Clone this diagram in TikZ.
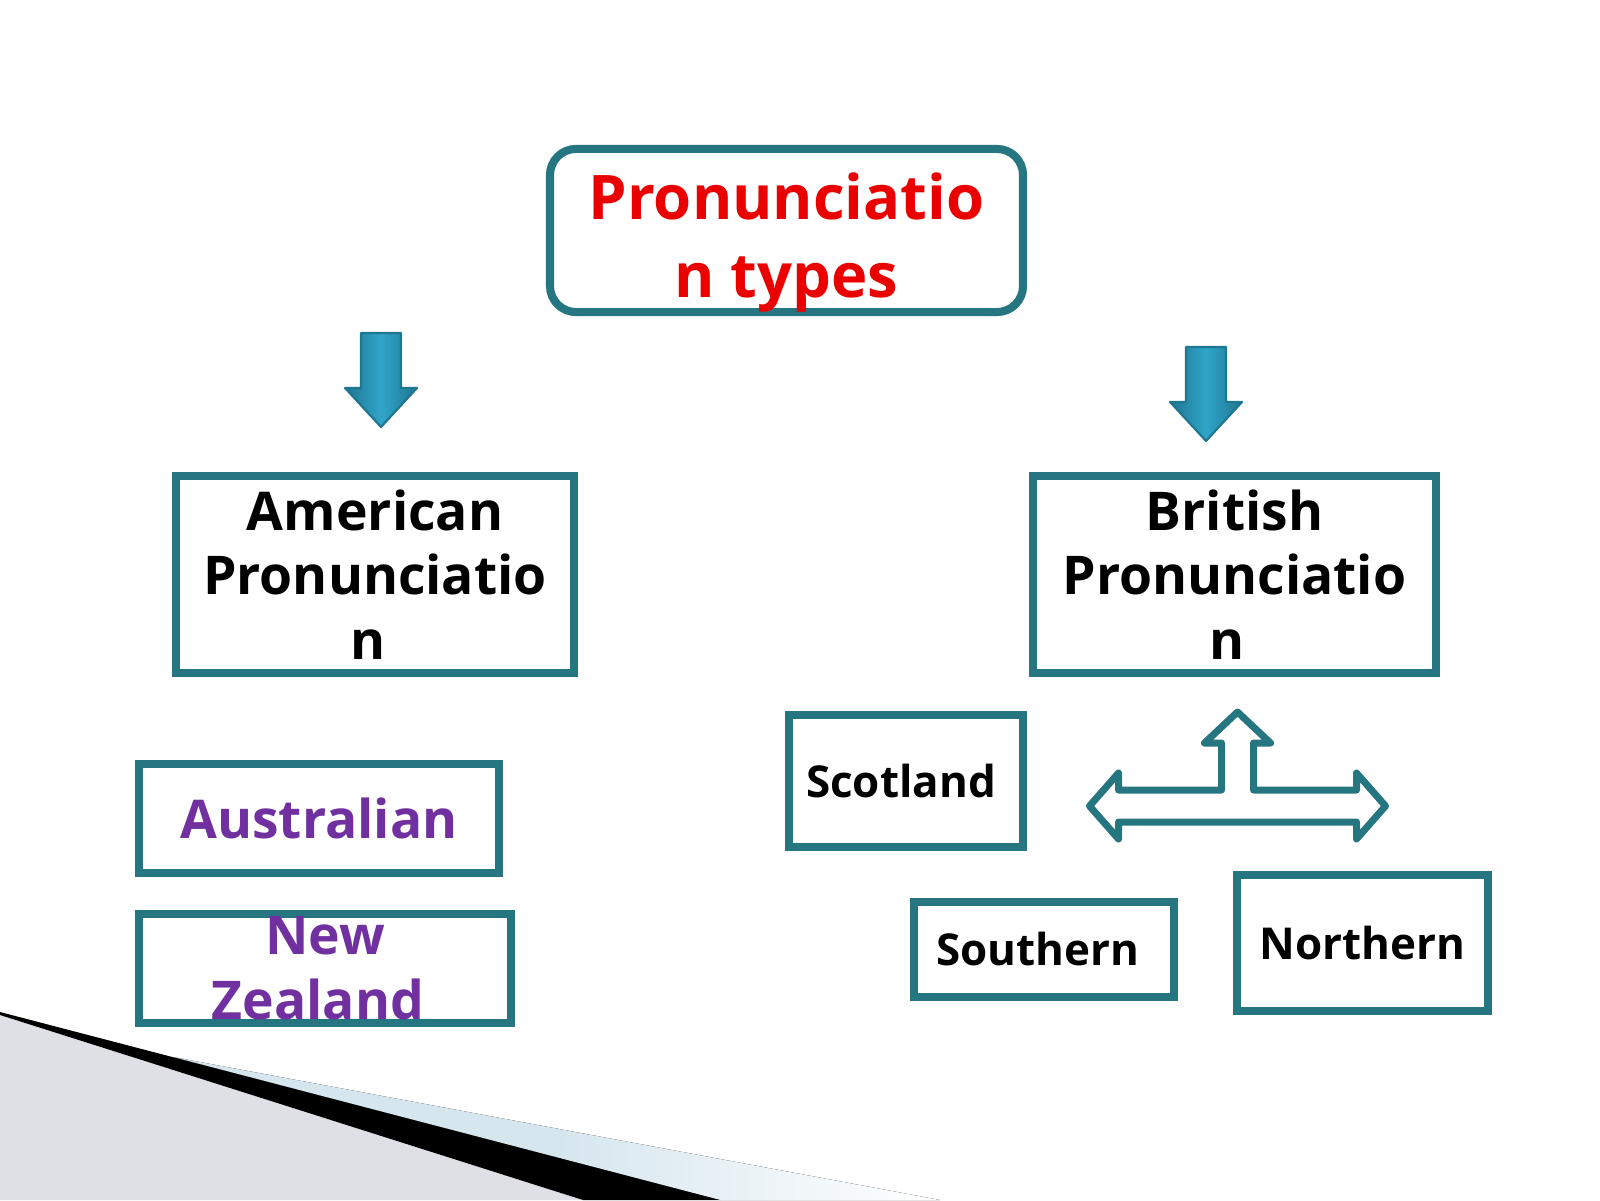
\documentclass[tikz,border=0pt]{standalone}
\usepackage{fontspec}
\setmainfont{Open Sans}
\usepackage{tikz}
\usetikzlibrary{positioning,calc}
\definecolor{boxteal}{RGB}{37,118,128}
\definecolor{titlered}{RGB}{235,0,0}
\definecolor{dialectpurple}{RGB}{112,48,160}
\definecolor{arrowdark}{RGB}{30,118,145}
\definecolor{arrowlight}{RGB}{48,165,200}
\definecolor{wedgegray}{RGB}{223,224,229}
\definecolor{wedgeblue}{RGB}{214,230,238}

\begin{document}
\begin{tikzpicture}[
    box/.style={rectangle, draw=boxteal, line width=2.3pt, fill=white, align=center, inner sep=0pt, font=\bfseries\fontsize{15.2}{18.4}\selectfont},
    smallbox/.style={box, font=\bfseries\fontsize{12.5}{15}\selectfont},
    blockarrow/.style={left color=arrowdark, right color=arrowdark, middle color=arrowlight, draw=arrowdark, line width=0.6pt, line join=round},
    splitarrow/.style={draw=boxteal, line width=0.07cm, line join=round, fill=white}
]
\useasboundingbox (0,0) rectangle (16,12);

% Corner wedge
\fill[wedgegray] (0,1.85) -- (5.83,0) -- (0,0) -- cycle;
\fill[right color=white, left color=wedgeblue, middle color=wedgeblue] (1.73,1.43) -- (9.40,0) -- (7.20,0) -- cycle;
\fill[black] (0,1.88) -- (7.20,0) -- (5.83,0) -- (0,1.85) -- cycle;

% Title
\node[box, rounded corners=0.26cm, minimum width=4.73cm, minimum height=1.63cm, text=titlered, font=\bfseries\fontsize{17.5}{22.2}\selectfont] (types) at (7.865,9.695) {\rule{0pt}{20pt}Pronunciatio\\n types};

% Down arrows
\path[blockarrow] (3.61,8.67) -- (4.01,8.67) -- (4.01,8.12) -- (4.17,8.12) -- (3.81,7.73) -- (3.45,8.12) -- (3.61,8.12) -- cycle;
\path[blockarrow] (11.86,8.53) -- (12.26,8.53) -- (12.26,7.98) -- (12.42,7.98) -- (12.06,7.59) -- (11.70,7.98) -- (11.86,7.98) -- cycle;

% Main types
\node[box, minimum width=3.98cm, minimum height=1.97cm] (american) at (3.75,6.255) {American\\Pronunciatio\\n\kern0.14cm};
\node[box, minimum width=4.03cm, minimum height=1.97cm] (british) at (12.345,6.255) {British\\Pronunciatio\\n\kern0.14cm};

% Left side
\node[box, minimum width=3.60cm, minimum height=1.09cm, text=dialectpurple] (australian) at (3.19,3.815) {Australian};
\node[box, minimum width=3.72cm, minimum height=1.09cm, text=dialectpurple] (newzealand) at (3.25,2.315) {New\\Zealand\kern0.14cm};

% Right side
\node[smallbox, minimum width=2.34cm, minimum height=1.32cm] (scotland) at (9.06,4.19) {Scotland\kern0.10cm};
\node[smallbox, minimum width=2.60cm, minimum height=0.95cm] (southern) at (10.44,2.505) {Southern\kern0.12cm};
\node[smallbox, minimum width=2.51cm, minimum height=1.36cm] (northern) at (13.625,2.57) {Northern};

% Three-way arrow
\draw[splitarrow] (12.375,4.88) -- (12.705,4.57) -- (12.535,4.57) -- (12.535,4.10)
    -- (13.565,4.10) -- (13.565,4.27) -- (13.855,3.94) -- (13.565,3.61) -- (13.565,3.78)
    -- (11.185,3.78) -- (11.185,3.61) -- (10.895,3.94) -- (11.185,4.27) -- (11.185,4.10)
    -- (12.215,4.10) -- (12.215,4.57) -- (12.045,4.57) -- cycle;

\end{tikzpicture}
\end{document}
